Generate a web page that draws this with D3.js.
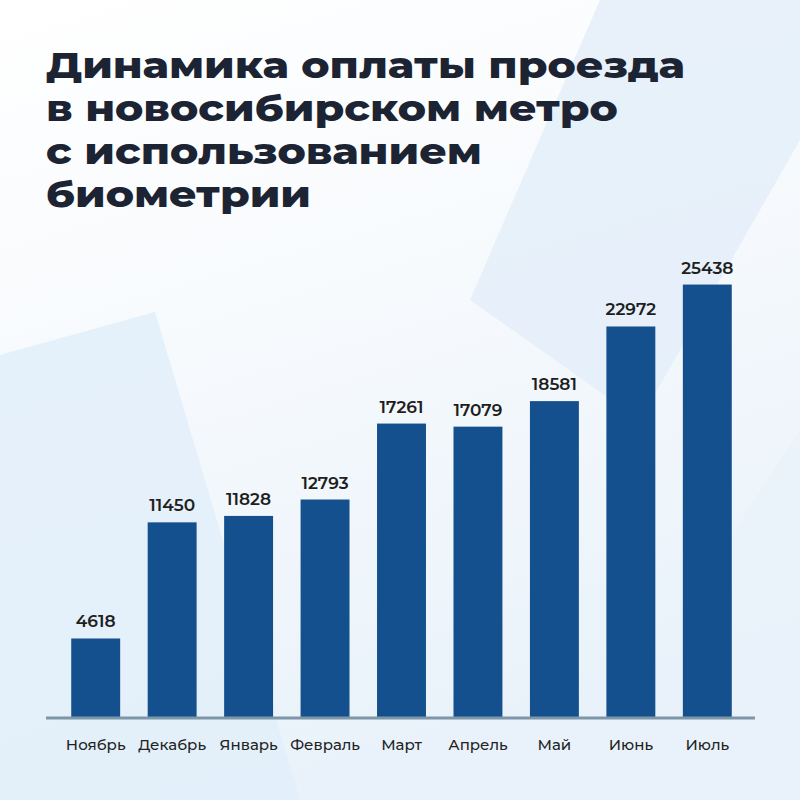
<!DOCTYPE html>
<html>
<head>
<meta charset="utf-8">
<script src="https://cdn.jsdelivr.net/npm/d3@7"></script>
<style>
  html, body { margin: 0; padding: 0; background: #ffffff; }
  svg { display: block; }
</style>
</head>
<body>
<div id="chart"></div>
<script>
// данные графика
const titleLines = ['Динамика оплаты проезда', 'в новосибирском метро', 'с использованием', 'биометрии'];
const months = ['Ноябрь', 'Декабрь', 'Январь', 'Февраль', 'Март', 'Апрель', 'Май', 'Июнь', 'Июль'];
const payments = [4618, 11450, 11828, 12793, 17261, 17079, 18581, 22972, 25438];

const width = 800, height = 800;
const baseY = 717;
const fontFamily = 'Montserrat, "Open Sans", "Noto Sans", sans-serif';

const svg = d3.select('#chart')
    .append('svg')
    .attr('width', width)
    .attr('height', height);

// фон: светлые диагональные полосы
const defs = svg.append('defs');
const bg = defs.append('linearGradient')
    .attr('id', 'bg')
    .attr('x1', '0').attr('y1', '0')
    .attr('x2', '0.3').attr('y2', '1');
bg.append('stop').attr('offset', '0').attr('stop-color', '#ffffff');
bg.append('stop').attr('offset', '0.45').attr('stop-color', '#f7fafd');
bg.append('stop').attr('offset', '1').attr('stop-color', '#e9f2fa');

svg.append('rect')
    .attr('width', width)
    .attr('height', height)
    .attr('fill', 'url(#bg)');

const shapes = [
    { pts: [[600, 0], [800, 0], [800, 140], [640, 420], [470, 300]], fill: '#e4eef9', op: 0.85 },
    { pts: [[0, 355], [155, 312], [300, 800], [0, 800]], fill: '#e2eef9', op: 0.85 },
    { pts: [[800, 430], [800, 800], [560, 800]], fill: '#e9f2fa', op: 0.6 }
];
svg.append('g')
    .selectAll('polygon')
    .data(shapes)
    .join('polygon')
    .attr('points', d => d.pts.map(p => p.join(',')).join(' '))
    .attr('fill', d => d.fill)
    .attr('opacity', d => d.op);

// заголовок: один текст, строки через tspan
const title = svg.append('text')
    .attr('font-family', fontFamily)
    .attr('font-weight', 800)
    .attr('font-size', 36)
    .attr('fill', '#1c2433');

const titleSpans = title.selectAll('tspan')
    .data(titleLines)
    .join('tspan')
    .attr('x', 0)
    .attr('y', (d, i) => 78 + i * 43)
    .text(d => d);

// шрифт в оригинале шире: растягиваем по горизонтали до ~639px
const firstW = titleSpans.node().getComputedTextLength();
const sx = 639 / firstW;
title.attr('transform', `translate(46,0) scale(${sx.toFixed(4)},1)`);

// шкалы
const x = d3.scaleBand()
    .domain(months)
    .range([46, 757])
    .paddingInner(0.36)
    .paddingOuter(0.33);

const y = d3.scaleLinear()
    .domain([0, 26000])
    .range([baseY, baseY - 26000 * 0.0170]);

// столбцы
svg.append('g')
    .selectAll('rect')
    .data(payments)
    .join('rect')
    .attr('x', (d, i) => x(months[i]))
    .attr('y', d => y(d))
    .attr('width', x.bandwidth())
    .attr('height', d => y(0) - y(d))
    .attr('fill', '#14508e');

// подписи значений
svg.append('g')
    .attr('font-family', fontFamily)
    .attr('font-weight', 600)
    .attr('font-size', 17)
    .attr('fill', '#1e1e1e')
    .attr('text-anchor', 'middle')
    .selectAll('text')
    .data(payments)
    .join('text')
    .attr('x', (d, i) => x(months[i]) + x.bandwidth() / 2)
    .attr('y', d => y(d) - 11)
    .text(d => d);

// базовая линия
svg.append('line')
    .attr('x1', 46)
    .attr('x2', 755)
    .attr('y1', baseY + 1)
    .attr('y2', baseY + 1)
    .attr('stroke', '#7d96a8')
    .attr('stroke-width', 3);

// подписи месяцев
const xAxis = d3.axisBottom(x).tickSize(0).tickPadding(0);
const axisG = svg.append('g')
    .attr('transform', `translate(0,${baseY})`)
    .call(xAxis);
axisG.select('.domain').remove();
axisG.selectAll('text')
    .attr('y', 33)
    .attr('dy', 0)
    .attr('font-family', fontFamily)
    .attr('font-weight', 500)
    .attr('font-size', 15)
    .attr('fill', '#222222');
</script>
</body>
</html>
